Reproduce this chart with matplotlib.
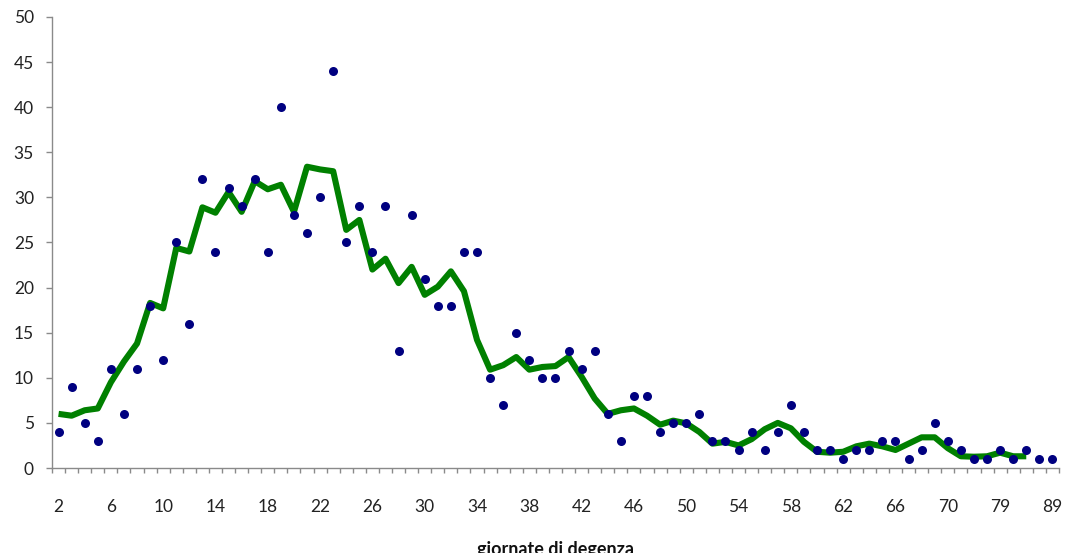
import matplotlib
matplotlib.use("Agg")
import matplotlib.pyplot as plt
import numpy as np

# giornate di degenza (categorie sull'asse x)
giorni = list(range(2, 71)) + [71, 72, 75, 79, 82, 84, 86, 89]

# numero di pazienti per giornata (punti blu)
pazienti = [4, 9, 5, 3, 11, 6, 11, 18, 12, 25,
            16, 32, 24, 31, 29, 32, 24, 40, 28, 26,
            30, 44, 25, 29, 24, 29, 13, 28, 21, 18,
            18, 24, 24, 10, 7, 15, 12, 10, 10, 13,
            11, 13, 6, 3, 8, 8, 4, 5, 5, 6,
            3, 3, 2, 4, 2, 4, 7, 4, 2, 2,
            1, 2, 2, 3, 3, 1, 2, 5, 3, 2,
            1, 1, 2, 1, 2, 1, 1]

# media mobile (linea verde)
media = [6.0, 5.8, 6.4, 6.6, 9.5, 11.8, 13.8, 18.3, 17.7, 24.4,
         24.0, 28.9, 28.3, 30.6, 28.4, 31.8, 30.9, 31.4, 28.4, 33.4,
         33.1, 32.9, 26.4, 27.5, 22.0, 23.2, 20.5, 22.3, 19.2, 20.1,
         21.8, 19.6, 14.2, 10.9, 11.4, 12.3, 10.9, 11.2, 11.3, 12.3,
         10.1, 7.7, 6.0, 6.4, 6.6, 5.8, 4.8, 5.25, 4.95, 4.0,
         2.7, 2.9, 2.5, 3.2, 4.3, 5.0, 4.4, 2.9, 1.8, 1.7,
         1.8, 2.4, 2.7, 2.4, 2.0, 2.7, 3.4, 3.4, 2.2, 1.3,
         1.25, 1.3, 1.7, 1.3, 1.3]

plt.rcParams['font.family'] = ['Lato', 'DejaVu Sans']

fig = plt.figure(figsize=(10.66, 5.53), dpi=100)
ax = fig.add_axes([0.0488, 0.1537, 0.9446, 0.8156])

x = np.arange(len(giorni))
ax.plot(np.arange(len(media)), media, color='#008000', linewidth=4.4,
        solid_joinstyle='round', solid_capstyle='butt', zorder=2)
ax.plot(x, pazienti, linestyle='none', marker='o', markersize=6.5,
        color='#000080', markeredgewidth=0, zorder=3)

ax.set_xlim(-0.5, len(giorni) - 0.5)
ax.set_ylim(0, 50)
ax.set_yticks(range(0, 51, 5))

ax.set_xticks(x[::4])
ax.set_xticklabels([str(g) for g in giorni[::4]])
ax.set_xticks(np.arange(len(giorni) + 1) - 0.5, minor=True)

for s in ['top', 'right']:
    ax.spines[s].set_visible(False)
for s in ['left', 'bottom']:
    ax.spines[s].set_color('#8a8a8a')
    ax.spines[s].set_linewidth(1.0)

ax.tick_params(axis='y', length=4, width=1, color='#8a8a8a', pad=9,
               labelsize=12.5, labelcolor='#222222')
ax.tick_params(axis='x', which='major', length=0, pad=22,
               labelsize=12.5, labelcolor='#222222')
ax.tick_params(axis='x', which='minor', length=3.5, width=1, color='#8a8a8a')

ax.set_xlabel('giornate di degenza', fontsize=13, fontweight='bold',
              color='#111111', labelpad=19)

fig.savefig('out.png', dpi=100)
